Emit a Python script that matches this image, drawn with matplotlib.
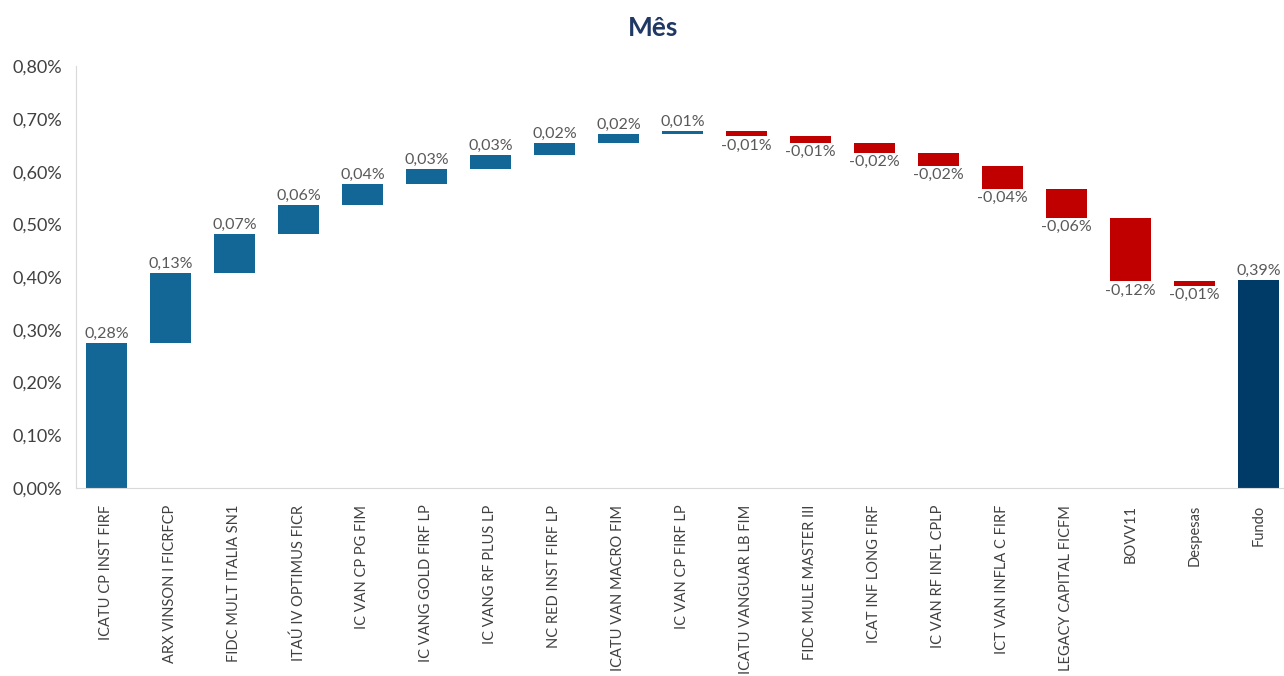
import numpy as np
import matplotlib
matplotlib.use("Agg")
import matplotlib.pyplot as plt
from matplotlib.ticker import FuncFormatter

plt.rcParams['font.family'] = ['Lato', 'DejaVu Sans']

categories = ["ICATU CP INST FIRF", "ARX VINSON I FICRFCP", "FIDC MULT ITALIA SN1",
              "ITAÚ IV OPTIMUS FICR", "IC VAN CP PG FIM", "IC VANG GOLD FIRF LP",
              "IC VANG RF PLUS LP", "NC RED INST FIRF LP", "ICATU VAN MACRO FIM",
              "IC VAN CP FIRF LP", "ICATU VANGUAR LB FIM", "FIDC MULE MASTER III",
              "ICAT INF LONG FIRF", "IC VAN RF INFL CPLP", "ICT VAN INFLA C FIRF",
              "LEGACY CAPITAL FICFM", "BOVV11", "Despesas"]
contrib = [0.276, 0.132, 0.073, 0.056, 0.039, 0.029, 0.026, 0.024, 0.016, 0.006,
           -0.010, -0.012, -0.020, -0.024, -0.043, -0.056, -0.120, -0.009]
total_label = "Fundo"
total_value = 0.394

pos_color = "#136797"
neg_color = "#C00000"
tot_color = "#003B67"
txt_color = "#595959"

contrib = np.array(contrib)
ends = np.cumsum(contrib)
starts = ends - contrib

fig = plt.figure(figsize=(12.84, 6.76), dpi=100)
ax = fig.add_axes([0.059, 0.278, 0.941, 0.624])

x = np.arange(len(categories))
colors = [pos_color if v >= 0 else neg_color for v in contrib]
ax.bar(x, contrib, bottom=starts, width=0.63, color=colors)
ax.bar(len(categories), total_value, width=0.63, color=tot_color)

def fmt(v):
    return f"{v:.2f}".replace(".", ",") + "%"

for i, v in enumerate(contrib):
    if v >= 0:
        ax.text(i, ends[i] + 0.004, fmt(v), ha="center", va="bottom",
                fontsize=11.5, color=txt_color)
    else:
        ax.text(i, ends[i] - 0.004, fmt(v), ha="center", va="top",
                fontsize=11.5, color=txt_color)
ax.text(len(categories), total_value + 0.004, fmt(total_value), ha="center",
        va="bottom", fontsize=11.5, color=txt_color)

labels = categories + [total_label]
ax.set_xticks(np.arange(len(labels)))
ax.set_xticklabels(labels, rotation=90, fontsize=10.5, color="#404040")
ax.set_xlim(-0.48, len(labels) - 0.6)
ax.set_ylim(0, 0.8)
ax.set_yticks(np.arange(0, 0.81, 0.1))
ax.yaxis.set_major_formatter(FuncFormatter(lambda v, p: fmt(v)))
ax.tick_params(axis="y", labelsize=13, labelcolor="#404040", length=0, pad=10)
ax.tick_params(axis="x", length=0, pad=12)

for s in ["top", "right"]:
    ax.spines[s].set_visible(False)
ax.spines["left"].set_color("#D9D9D9")
ax.spines["bottom"].set_color("#D9D9D9")

fig.text(0.509, 0.958, "Mês", ha="center", va="center", fontsize=19,
         fontweight="bold", color="#203864")

fig.savefig("out.png", dpi=100)
